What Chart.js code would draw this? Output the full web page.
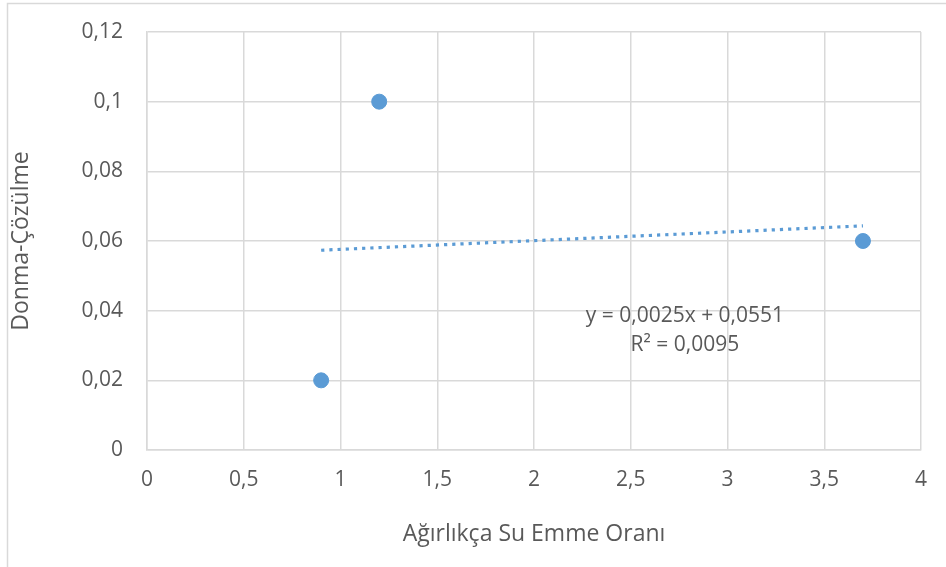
<!DOCTYPE html>
<html>
<head>
<meta charset="utf-8">
<script src="https://cdn.jsdelivr.net/npm/chart.js@4.4.1/dist/chart.umd.min.js"></script>
<style>
  html, body { margin: 0; padding: 0; background: #ffffff; }
  #wrap { width: 946px; height: 567px; position: relative; }
</style>
</head>
<body>
<div id="wrap"><canvas id="c" width="946" height="567"></canvas></div>
<script>
// Measured samples: water absorption ratio (by weight) vs freeze-thaw loss
const absorption = [0.9, 1.2, 3.7];
const freezeThaw = [0.02, 0.1, 0.06];

// Linear trendline y = slope * x + intercept, with its R²
const slope = 0.0025;
const intercept = 0.0551;
const rSquared = '0,0095';

// Axis settings
const xRange = [0, 4];
const xStep = 0.5;
const yRange = [0, 0.12];
const yStep = 0.02;

const xTitle = 'Ağırlıkça Su Emme Oranı';
const yTitle = 'Donma-Çözülme';

const blue = '#5B9BD5';
const gridColor = '#d9d9d9';
const textColor = '#595959';
const fontFamily = '"Open Sans", "Noto Sans", sans-serif';
const tickSize = 21;
const titleSize = 23;

const trendStart = Math.min(...absorption);
const trendEnd = Math.max(...absorption);
const trendPoints = [trendStart, trendEnd].map(x => ({ x, y: slope * x + intercept }));

const fmt = v => String(+Number(v).toFixed(4)).replace('.', ',');
const eqText = 'y = ' + fmt(slope) + 'x + ' + fmt(intercept);

// Outer frame of the chart object
const framePlugin = {
  id: 'frame',
  beforeDraw(chart) {
    const ctx = chart.ctx;
    ctx.save();
    ctx.strokeStyle = gridColor;
    ctx.lineWidth = 1.5;
    ctx.beginPath();
    ctx.moveTo(7.5, chart.height);
    ctx.lineTo(7.5, 3.5);
    ctx.lineTo(chart.width, 3.5);
    ctx.stroke();
    ctx.restore();
  }
};

// Trendline equation label
const equationPlugin = {
  id: 'equation',
  afterDatasetsDraw(chart) {
    const { ctx, scales: { x, y } } = chart;
    const cx = x.getPixelForValue(2.78);
    const cy = y.getPixelForValue(0.0385);
    ctx.save();
    ctx.fillStyle = textColor;
    ctx.font = tickSize + 'px ' + fontFamily;
    ctx.textAlign = 'center';
    ctx.textBaseline = 'middle';
    ctx.fillText(eqText, cx, cy);
    ctx.fillText('R² = ' + rSquared, cx, cy + 29);
    ctx.restore();
  }
};

new Chart(document.getElementById('c'), {
  type: 'scatter',
  data: {
    datasets: [
      {
        type: 'line',
        label: 'Doğrusal',
        data: trendPoints,
        borderColor: blue,
        borderWidth: 3.2,
        borderDash: [3.2, 5],
        pointRadius: 0,
        fill: false,
        order: 2
      },
      {
        label: 'Donma-Çözülme',
        data: absorption.map((x, i) => ({ x, y: freezeThaw[i] })),
        backgroundColor: blue,
        borderColor: blue,
        pointRadius: 7.5,
        pointHoverRadius: 7.5,
        order: 1
      }
    ]
  },
  options: {
    responsive: false,
    animation: false,
    layout: { padding: { top: 32, right: 25, left: 0, bottom: 0 } },
    plugins: {
      legend: { display: false },
      tooltip: { enabled: false }
    },
    scales: {
      x: {
        type: 'linear',
        min: xRange[0],
        max: xRange[1],
        ticks: {
          stepSize: xStep,
          color: textColor,
          font: { size: tickSize, family: fontFamily },
          padding: 17,
          callback: v => fmt(v)
        },
        grid: { color: gridColor, lineWidth: 1.5, drawTicks: false },
        border: { color: gridColor, width: 1.5 },
        title: {
          display: true,
          text: xTitle,
          color: textColor,
          font: { size: titleSize, family: fontFamily },
          padding: { top: 0, bottom: 19 }
        },
        afterFit(scale) { scale.height = 117; }
      },
      y: {
        type: 'linear',
        min: yRange[0],
        max: yRange[1],
        ticks: {
          stepSize: yStep,
          color: textColor,
          font: { size: tickSize, family: fontFamily },
          padding: 0,
          callback: v => fmt(v)
        },
        // invisible tick marks keep the labels clear of the plot edge
        grid: {
          color: gridColor,
          lineWidth: 1.5,
          drawTicks: true,
          tickLength: 24,
          tickColor: 'rgba(0,0,0,0)'
        },
        border: { color: gridColor, width: 1.5 },
        title: {
          display: true,
          text: yTitle,
          color: textColor,
          font: { size: titleSize, family: fontFamily },
          padding: { top: 8, bottom: 0 }
        },
        afterFit(scale) { scale.width = 147; }
      }
    }
  },
  plugins: [framePlugin, equationPlugin]
});
</script>
</body>
</html>
